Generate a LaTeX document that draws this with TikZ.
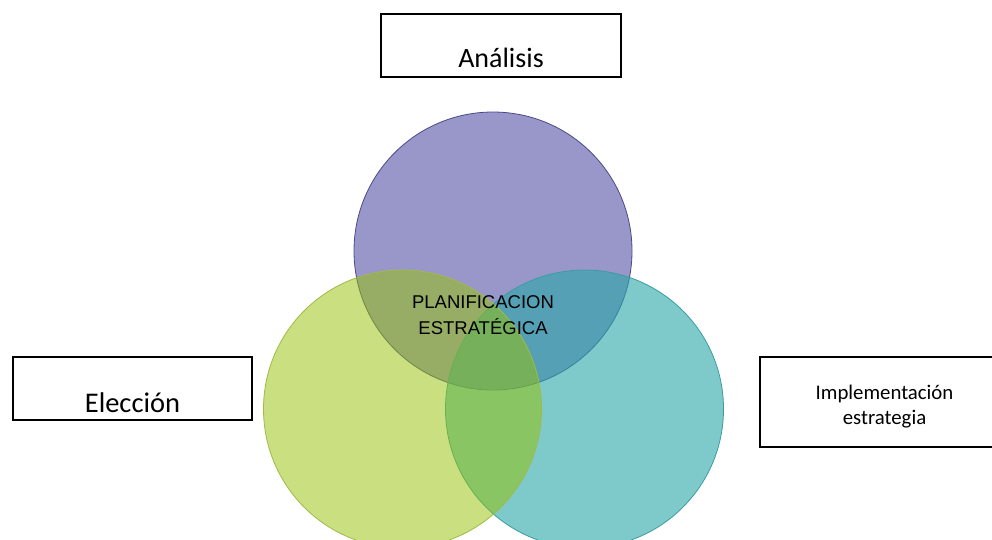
\documentclass[tikz,border=0pt]{standalone}
\usepackage{fontspec}
\setmainfont{Carlito}
\newfontfamily\capsfont{Liberation Sans}
\usetikzlibrary{positioning}

\definecolor{ringpurple}{RGB}{153,151,202}
\definecolor{edgepurple}{RGB}{74,74,136}
\definecolor{ringteal}{RGB}{40,167,168}
\definecolor{edgeteal}{RGB}{58,158,160}
\definecolor{ringgreen}{RGB}{151,193,0}
\definecolor{edgegreen}{RGB}{160,186,70}

\begin{document}
\begin{tikzpicture}[
        x=1pt, y=-1pt,
        labelbox/.style={rectangle, draw, line width=1.4pt, inner sep=0pt, text=black},
        ring/.style={circle, minimum size=278pt, inner sep=0pt, line width=0.8pt}
    ]
        \useasboundingbox (0,0) rectangle (992,539);
        \clip (0,0) rectangle (992,539);
        \fill[white] (0,0) rectangle (992,539);

        % the three rings
        \node[ring, fill=ringpurple, draw=edgepurple] (analisisring) at (493,251) {};
        \node[ring, fill=ringteal, fill opacity=0.6, draw=edgeteal] (implring) at (584.5,409) {};
        \node[ring, fill=ringgreen, fill opacity=0.5, draw=edgegreen] (eleccionring) at (402.5,409) {};

        \node[font=\capsfont\fontsize{18.5}{26.7}\selectfont, align=center, text=black] (centro) at (483,315) {PLANIFICACION\\ESTRATÉGICA};

        % labels
        \node[labelbox, font=\fontsize{28}{34}\selectfont, minimum width=240pt, text height=53pt, text depth=10pt, anchor=base] (analisis) at (501,67) {Análisis};
        \node[labelbox, font=\fontsize{28.5}{34}\selectfont, minimum width=239pt, text height=55pt, text depth=8pt, anchor=base] (eleccion) at (132.5,412) {Elección};
        \node[labelbox, minimum width=250pt, minimum height=90pt] (impl) at (885,402) {};
        \node[font=\fontsize{20.8}{25}\selectfont, align=center] (impltext) at (884.5,407) {Implementación\\estrategia};
    \end{tikzpicture}
\end{document}
